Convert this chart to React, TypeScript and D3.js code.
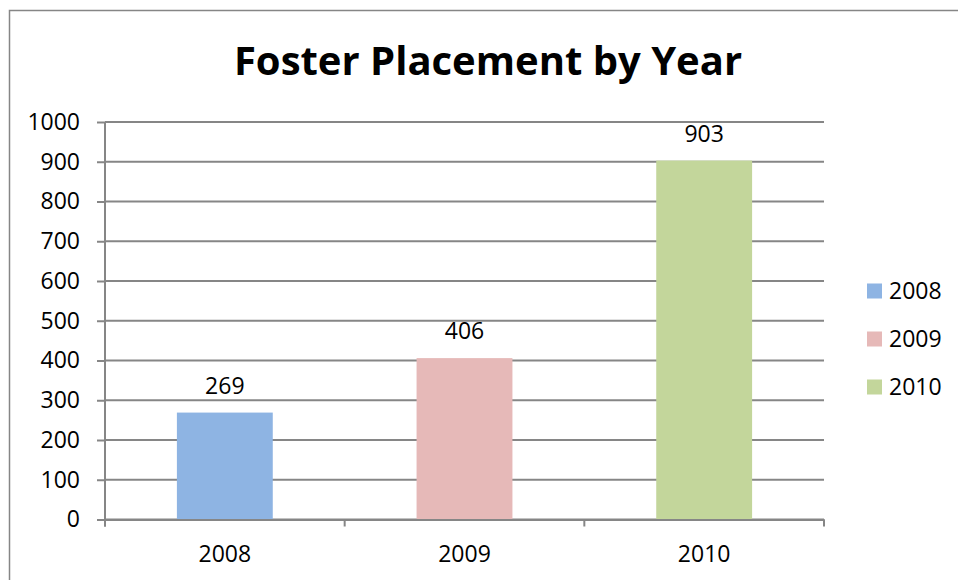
import React, { useEffect, useRef } from "react";
import * as d3 from "d3";

// chart data
const years = ["2008", "2009", "2010"];
const placements = [269, 406, 903];
const colors = ["#8EB4E3", "#E6B9B8", "#C3D69B"];
const yTicks = [0, 100, 200, 300, 400, 500, 600, 700, 800, 900, 1000];

const FONT = "'Open Sans', 'Liberation Sans', sans-serif";
const LABEL_SIZE = "23px";

const drawChart = (node: SVGSVGElement) => {
  const svg = d3.select(node);
  svg.selectAll("*").remove();

  // plot area
  const left = 105, right = 824, top = 122, bottom = 519.5;

  // outer frame
  svg.append("rect")
    .attr("x", 9.5).attr("y", 10.5)
    .attr("width", 960).attr("height", 600)
    .attr("fill", "#fff")
    .attr("stroke", "#868686")
    .attr("stroke-width", 1.5);

  // title
  svg.append("text")
    .attr("x", 488).attr("y", 75)
    .attr("text-anchor", "middle")
    .style("font-family", FONT)
    .style("font-weight", "bold")
    .style("font-size", "40px")
    .text("Foster Placement by Year");

  const y = d3.scaleLinear().domain([0, 1000]).range([bottom, top]);
  const x = d3.scaleBand().domain(years).range([left, right]).padding(0);

  // y axis ticks + labels
  const yAxis = svg.append("g")
    .attr("transform", "translate(" + left + ",0)")
    .call(d3.axisLeft(y).tickValues(yTicks).tickFormat(d3.format("d")).tickSize(8).tickPadding(17).tickSizeOuter(0));
  yAxis.select(".domain").remove();
  yAxis.selectAll("line").attr("stroke", "#868686").attr("stroke-width", 2);
  yAxis.selectAll("text")
    .style("font-family", FONT).style("font-size", LABEL_SIZE).attr("fill", "#000");

  // gridlines
  svg.append("g")
    .selectAll("line")
    .data(yTicks)
    .enter().append("line")
    .attr("x1", left).attr("x2", right)
    .attr("y1", (d) => y(d)).attr("y2", (d) => y(d))
    .attr("stroke", "#868686").attr("stroke-width", 2);

  // left axis line
  svg.append("line")
    .attr("x1", left).attr("x2", left)
    .attr("y1", top).attr("y2", bottom + 7)
    .attr("stroke", "#868686").attr("stroke-width", 2);

  // bars
  const barW = x.bandwidth() * 0.4;
  svg.append("g")
    .selectAll("rect")
    .data(placements)
    .enter().append("rect")
    .attr("x", (d, i) => (x(years[i]) as number) + (x.bandwidth() - barW) / 2)
    .attr("y", (d) => y(d))
    .attr("width", barW)
    .attr("height", (d) => bottom - y(d))
    .attr("fill", (d, i) => colors[i]);

  // data labels
  svg.append("g")
    .selectAll("text")
    .data(placements)
    .enter().append("text")
    .attr("x", (d, i) => (x(years[i]) as number) + x.bandwidth() / 2)
    .attr("y", (d) => y(d) - 19)
    .attr("text-anchor", "middle")
    .style("font-family", FONT).style("font-size", LABEL_SIZE)
    .text((d) => d);

  // x axis
  const xAxis = svg.append("g")
    .attr("transform", "translate(0," + bottom + ")")
    .call(d3.axisBottom(x).tickSize(0).tickPadding(26));
  xAxis.select(".domain").attr("stroke", "#868686").attr("stroke-width", 2);
  xAxis.selectAll("text")
    .style("font-family", FONT).style("font-size", LABEL_SIZE).attr("fill", "#000");

  // category boundary ticks
  const bounds = [left, ...years.map((yr) => (x(yr) as number) + x.bandwidth())];
  svg.append("g")
    .selectAll("line")
    .data(bounds)
    .enter().append("line")
    .attr("x1", (d) => d).attr("x2", (d) => d)
    .attr("y1", bottom).attr("y2", bottom + 7)
    .attr("stroke", "#868686").attr("stroke-width", 2);

  // legend
  const legend = svg.append("g")
    .selectAll("g")
    .data(years)
    .enter().append("g")
    .attr("transform", (d, i) => "translate(867," + (291 + i * 48) + ")");
  legend.append("rect")
    .attr("x", 0).attr("y", -7.5)
    .attr("width", 15).attr("height", 15)
    .attr("fill", (d, i) => colors[i]);
  legend.append("text")
    .attr("x", 22).attr("y", 0)
    .attr("dy", "0.35em")
    .style("font-family", FONT).style("font-size", LABEL_SIZE)
    .text((d) => d);
};

const App = () => {
  const ref = useRef<SVGSVGElement>(null);

  useEffect(() => {
    document.body.style.margin = "0";
    if (ref.current) drawChart(ref.current);
  }, []);

  return <svg ref={ref} width={958} height={580} style={{ display: "block" }} />;
};

export default App;
